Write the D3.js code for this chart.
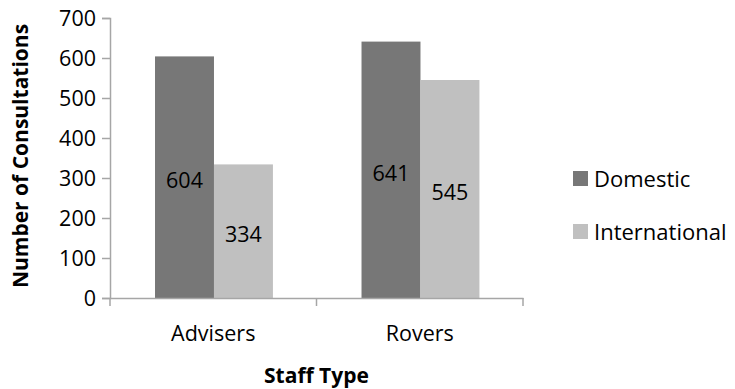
<!DOCTYPE html>
<html>
<head>
<meta charset="utf-8">
<script src="https://cdn.jsdelivr.net/npm/d3@7"></script>
<style>
  body { margin: 0; background: #fff; }
  text { font-family: "Open Sans", Lato, sans-serif; fill: #000; }
  .axis path, .axis line { stroke: #a6a6a6; stroke-width: 1.5; }
</style>
</head>
<body>
<div id="chart"></div>
<script>
// Chart data
var categories = ["Advisers", "Rovers"];
var seriesNames = ["Domestic", "International"];
var domesticValues = [604, 641];
var internationalValues = [334, 545];
var yTicks = [0, 100, 200, 300, 400, 500, 600, 700];
var colors = ["#777777", "#c0c0c0"];

var svgWidth = 735;
var svgHeight = 389;

var margin = { top: 18, right: 212, bottom: 91, left: 110 };
var width = svgWidth - margin.left - margin.right;
var height = svgHeight - margin.top - margin.bottom;

var svg = d3.select("#chart")
  .append("svg")
  .attr("width", svgWidth)
  .attr("height", svgHeight);

var chartGroup = svg.append("g")
  .attr("transform", `translate(${margin.left}, ${margin.top})`);

// Build rows from the arrays
var rows = categories.map(function(c, i) {
  return { category: c, values: [domesticValues[i], internationalValues[i]] };
});

// Scales
var x0 = d3.scaleBand()
  .domain(categories)
  .range([0, width])
  .padding(0);

var x1 = d3.scaleBand()
  .domain(seriesNames)
  .range([x0.bandwidth() * 0.218, x0.bandwidth() * 0.789]);

var y = d3.scaleLinear()
  .domain([0, 700])
  .range([height, 0]);

// Axes
var leftAxis = d3.axisLeft(y).tickValues(yTicks).tickSize(8).tickPadding(6);
var bottomAxis = d3.axisBottom(x0).tickSize(0).tickFormat("");

var yAxisG = chartGroup.append("g")
  .attr("class", "axis")
  .call(leftAxis);
yAxisG.selectAll("text").style("font-size", "21.5px").attr("dy", "0.36em");

// Bars
var groups = chartGroup.selectAll(".group")
  .data(rows)
  .enter()
  .append("g")
  .attr("transform", d => `translate(${x0(d.category)}, 0)`);

groups.selectAll("rect")
  .data(d => d.values.map((v, i) => ({ name: seriesNames[i], value: v })))
  .enter()
  .append("rect")
  .attr("x", d => x1(d.name))
  .attr("y", d => y(d.value))
  .attr("width", x1.bandwidth())
  .attr("height", d => height - y(d.value))
  .attr("fill", (d, i) => colors[i]);

groups.selectAll(".val")
  .data(d => d.values.map((v, i) => ({ name: seriesNames[i], value: v })))
  .enter()
  .append("text")
  .attr("class", "val")
  .attr("x", d => x1(d.name) + x1.bandwidth() / 2)
  .attr("y", d => (y(d.value) + height) / 2)
  .attr("dy", "0.5em")
  .attr("text-anchor", "middle")
  .style("font-size", "21.5px")
  .text(d => d.value);

// X axis drawn on top of bars, with boundary ticks
var xAxisG = chartGroup.append("g")
  .attr("class", "axis")
  .attr("transform", `translate(0, ${height})`)
  .call(bottomAxis);

var boundaries = [0].concat(categories.map(c => x0(c) + x0.bandwidth()));
xAxisG.selectAll(".bound")
  .data(boundaries)
  .enter()
  .append("line")
  .attr("x1", d => d)
  .attr("x2", d => d)
  .attr("y1", 0)
  .attr("y2", 8);

xAxisG.selectAll(".cat")
  .data(categories)
  .enter()
  .append("text")
  .attr("x", d => x0(d) + x0.bandwidth() / 2)
  .attr("y", 35)
  .attr("dy", "0.36em")
  .attr("text-anchor", "middle")
  .style("font-size", "21.5px")
  .text(d => d);

// Axis titles
chartGroup.append("text")
  .attr("transform", "rotate(-90)")
  .attr("x", -height / 2 + 2)
  .attr("y", -90)
  .attr("dy", "0.36em")
  .attr("text-anchor", "middle")
  .style("font-size", "21px")
  .style("font-weight", "bold")
  .text("Number of Consultations");

chartGroup.append("text")
  .attr("x", x0.bandwidth())
  .attr("y", height + 85)
  .attr("text-anchor", "middle")
  .style("font-size", "21px")
  .style("font-weight", "bold")
  .text("Staff Type");

// Legend
var legend = svg.append("g")
  .attr("transform", "translate(573, 171)");

var legendItems = legend.selectAll(".item")
  .data(seriesNames)
  .enter()
  .append("g")
  .attr("transform", (d, i) => `translate(0, ${i * 53})`);

legendItems.append("rect")
  .attr("width", 15)
  .attr("height", 15)
  .attr("fill", (d, i) => colors[i]);

legendItems.append("text")
  .attr("x", 21)
  .attr("y", 8)
  .attr("dy", "0.36em")
  .style("font-size", "22px")
  .text(d => d);
</script>
</body>
</html>
